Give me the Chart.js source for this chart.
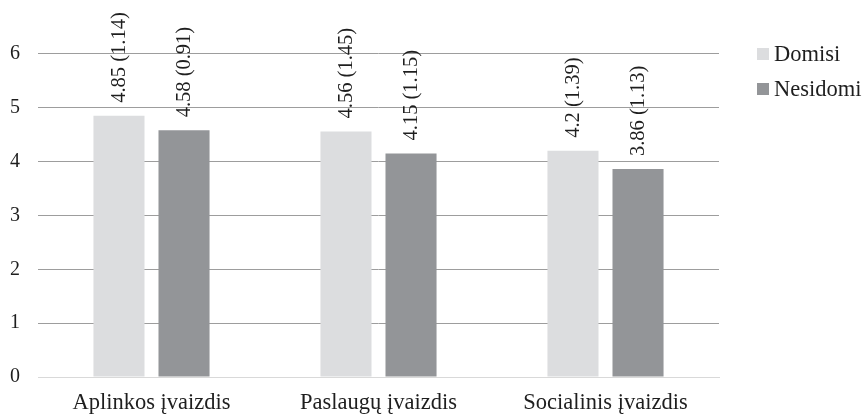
<!DOCTYPE html>
<html>
<head>
<meta charset="utf-8">
<script src="https://cdn.jsdelivr.net/npm/chart.js@4/dist/chart.umd.min.js"></script>
<style>
  html, body { margin: 0; padding: 0; background: #ffffff; }
  #wrap { width: 864px; height: 415px; position: relative; }
</style>
</head>
<body>
<div id="wrap"><canvas id="c"></canvas></div>
<script>
const categories = ['Aplinkos įvaizdis', 'Paslaugų įvaizdis', 'Socialinis įvaizdis'];
const seriesNames = ['Domisi', 'Nesidomi'];
const domisiValues = [4.85, 4.56, 4.2];
const domisiSD = [1.14, 1.45, 1.39];
const nesidomiValues = [4.58, 4.15, 3.86];
const nesidomiSD = [0.91, 1.15, 1.13];
const yTickValues = [0, 1, 2, 3, 4, 5, 6];

const FONT = "'Liberation Serif', 'Times New Roman', Times, serif";
const TEXT = '#1e1e1e';
const COLORS = ['#dcdddf', '#939598'];
const sds = [domisiSD, nesidomiSD];

const valueLabels = {
  id: 'valueLabels',
  afterDatasetsDraw(chart) {
    const ctx = chart.ctx;
    ctx.save();
    ctx.font = '20.5px ' + FONT;
    ctx.fillStyle = TEXT;
    ctx.textAlign = 'left';
    ctx.textBaseline = 'middle';
    chart.data.datasets.forEach((ds, di) => {
      const meta = chart.getDatasetMeta(di);
      meta.data.forEach((bar, i) => {
        const txt = String(ds.data[i]) + ' (' + sds[di][i].toFixed(2) + ')';
        ctx.save();
        ctx.translate(bar.x + 1, bar.y - 13);
        ctx.rotate(-Math.PI / 2);
        ctx.fillText(txt, 0, 0);
        ctx.restore();
      });
    });
    ctx.restore();
  }
};

const customLegend = {
  id: 'customLegend',
  afterDraw(chart) {
    const ctx = chart.ctx;
    ctx.save();
    ctx.font = '22.5px ' + FONT;
    ctx.textAlign = 'left';
    ctx.textBaseline = 'middle';
    const x0 = chart.chartArea.right + 38;
    const ys = [54, 89];
    chart.data.datasets.forEach((ds, di) => {
      ctx.fillStyle = ds.backgroundColor;
      ctx.fillRect(x0, ys[di] - 6, 12, 12);
      ctx.fillStyle = TEXT;
      ctx.fillText(ds.label, x0 + 17, ys[di] + 1);
    });
    ctx.restore();
  }
};

new Chart(document.getElementById('c'), {
  type: 'bar',
  data: {
    labels: categories,
    datasets: [
      { label: seriesNames[0], data: domisiValues, backgroundColor: COLORS[0] },
      { label: seriesNames[1], data: nesidomiValues, backgroundColor: COLORS[1] }
    ]
  },
  options: {
    responsive: true,
    maintainAspectRatio: false,
    animation: false,
    categoryPercentage: 0.573,
    barPercentage: 0.785,
    layout: { padding: { left: 0, right: 145, top: 0, bottom: 0 } },
    plugins: {
      legend: { display: false },
      tooltip: { enabled: false }
    },
    scales: {
      x: {
        grid: { display: false, drawTicks: false },
        border: { display: true, color: '#d9d9d9', width: 1 },
        ticks: { color: TEXT, font: { family: FONT, size: 22.5 }, padding: 13 },
        afterFit: (s) => { s.height = 38; s.paddingLeft = 0; s.paddingRight = 0; }
      },
      y: {
        min: 0,
        max: 7,
        afterBuildTicks: (scale) => {
          scale.ticks = yTickValues.map(v => ({ value: v }));
        },
        grid: {
          drawTicks: false,
          color: (c) => (c.tick && c.tick.value === 0) ? '#d9d9d9' : '#9d9d9d',
          lineWidth: 1
        },
        border: { display: false },
        ticks: { color: TEXT, font: { family: FONT, size: 20 }, padding: 18 },
        afterFit: (s) => { s.width = 38; s.paddingTop = 0; s.paddingBottom = 0; }
      }
    }
  },
  plugins: [valueLabels, customLegend]
});
</script>
</body>
</html>
